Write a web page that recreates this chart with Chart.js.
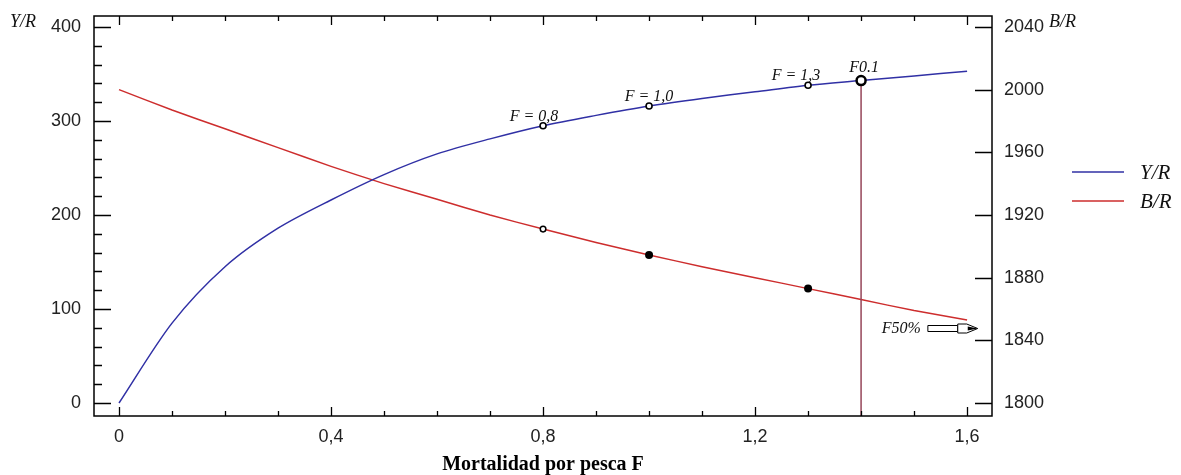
<!DOCTYPE html>
<html>
<head>
<meta charset="utf-8">
<script src="https://cdn.jsdelivr.net/npm/chart.js@4.4.1/dist/chart.umd.min.js"></script>
<style>
  body { margin: 0; background: #fff; }
  #wrap { width: 1181px; height: 475px; position: relative; }
</style>
</head>
<body>
<div id="wrap"><canvas id="grafico"></canvas></div>
<script>
// mortalidad por pesca F
const mortalidadF = [0, 0.1, 0.2, 0.3, 0.4, 0.5, 0.6, 0.7, 0.8, 0.9, 1.0, 1.1, 1.2, 1.3, 1.4, 1.5, 1.6];
// rendimiento por recluta (eje izq)
const rendimientoYR = [0, 85, 145, 186, 216, 243, 265, 281, 295, 306, 316, 324, 331, 338, 343, 348, 353];
// biomasa por recluta (eje der)
const biomasaBR = [2000, 1987, 1975, 1963, 1951, 1940, 1930, 1920, 1911, 1902.5, 1894.5, 1887, 1880, 1873, 1866, 1859, 1853];

// puntos marcados
const marcasYR = [0.8, 1.0, 1.3];
const etiquetasYR = ["F = 0,8", "F = 1,0", "F = 1,3"];
const f01 = 1.4;
const marcaBRabierta = [0.8];
const marcasBRllenas = [1.0, 1.3];
const nivelF50 = 1848; // nivel de la flecha F50% (eje der)

// ticks
const ticksX = [0, 0.4, 0.8, 1.2, 1.6];
const ticksYizq = [0, 100, 200, 300, 400];
const ticksYder = [1800, 1840, 1880, 1920, 1960, 2000, 2040];

const azul = "rgb(48,48,165)";
const rojo = "rgb(205,45,45)";
const granate = "rgb(150,70,90)";

const idx = (f) => mortalidadF.findIndex((v) => Math.abs(v - f) < 1e-9);
const puntosYR = (lista) => lista.map((f) => ({ x: f, y: rendimientoYR[idx(f)] }));
const puntosBR = (lista) => lista.map((f) => ({ x: f, y: biomasaBR[idx(f)] }));

const fmtComa = (v) => (v === 0 ? "0" : v.toFixed(1).replace(".", ","));

// sin relleno extra por etiquetas, asi el area queda fija
const sinRelleno = (s) => {
  s.paddingTop = 0;
  s.paddingBottom = 0;
  s.paddingLeft = 0;
  s.paddingRight = 0;
};

// ejes con ticks hacia adentro, marco y textos extra
const decoraciones = {
  id: "decoraciones",
  afterDraw(chart) {
    const { ctx, chartArea: a, scales } = chart;
    const sx = scales.x, sy = scales.y, sy2 = scales.y2;
    ctx.save();
    ctx.strokeStyle = "#000";
    ctx.lineWidth = 1.5;
    ctx.strokeRect(a.left, a.top, a.right - a.left, a.bottom - a.top);
    ctx.lineWidth = 1.3;
    ctx.beginPath();
    // ticks eje x (abajo y arriba)
    for (let i = 0; i <= 16; i++) {
      const v = i / 10;
      const px = Math.round(sx.getPixelForValue(v)) + 0.5;
      const largo = i % 4 === 0 ? 9 : 5;
      ctx.moveTo(px, a.bottom);
      ctx.lineTo(px, a.bottom - largo);
      ctx.moveTo(px, a.top);
      ctx.lineTo(px, a.top + largo);
    }
    // ticks eje izquierdo
    for (let v = 0; v <= 400; v += 20) {
      const py = Math.round(sy.getPixelForValue(v)) + 0.5;
      const largo = v % 100 === 0 ? 17 : 8;
      ctx.moveTo(a.left, py);
      ctx.lineTo(a.left + largo, py);
    }
    // ticks eje derecho
    ticksYder.forEach((v) => {
      const py = Math.round(sy2.getPixelForValue(v)) + 0.5;
      ctx.moveTo(a.right, py);
      ctx.lineTo(a.right - 17, py);
    });
    ctx.stroke();

    // titulos de ejes verticales
    ctx.fillStyle = "#111";
    ctx.font = "italic 18px 'Liberation Serif'";
    ctx.textBaseline = "middle";
    ctx.textAlign = "left";
    ctx.fillText("Y/R", 10, 22);
    ctx.fillText("B/R", 1049, 22);

    // leyenda
    const leyenda = [["Y/R", azul, 172], ["B/R", rojo, 201]];
    ctx.font = "italic 21px 'Liberation Serif'";
    leyenda.forEach(([txt, col, y]) => {
      ctx.strokeStyle = col;
      ctx.lineWidth = 1.5;
      ctx.beginPath();
      ctx.moveTo(1072, y);
      ctx.lineTo(1124, y);
      ctx.stroke();
      ctx.fillStyle = "#111";
      ctx.fillText(txt, 1140, y + 1);
    });

    // etiquetas de puntos
    ctx.font = "italic 16px 'Liberation Serif'";
    ctx.textAlign = "center";
    ctx.textBaseline = "alphabetic";
    const desplaz = [-9, 0, -12];
    marcasYR.forEach((f, i) => {
      const px = sx.getPixelForValue(f);
      const py = sy.getPixelForValue(rendimientoYR[idx(f)]);
      ctx.fillText(etiquetasYR[i], px + desplaz[i], py - 5);
    });
    ctx.fillText("F0.1", sx.getPixelForValue(f01) + 3, sy.getPixelForValue(rendimientoYR[idx(f01)]) - 9);

    // flecha F50%
    const yF = Math.round(sy2.getPixelForValue(nivelF50)) + 0.5;
    const x0 = sx.getPixelForValue(1.526);
    const x1 = sx.getPixelForValue(1.62);
    ctx.textAlign = "right";
    ctx.textBaseline = "middle";
    ctx.fillText("F50%", x0 - 7, yF);
    ctx.strokeStyle = "#000";
    ctx.lineWidth = 1;
    ctx.fillStyle = "#fff";
    ctx.beginPath();
    ctx.rect(x0, yF - 3, (x1 - x0) * 0.6, 6);
    ctx.fill();
    ctx.stroke();
    ctx.beginPath();
    ctx.moveTo(x0 + (x1 - x0) * 0.6, yF - 4.5);
    ctx.lineTo(x0 + (x1 - x0) * 0.78, yF - 4.5);
    ctx.lineTo(x1, yF);
    ctx.lineTo(x0 + (x1 - x0) * 0.78, yF + 4.5);
    ctx.lineTo(x0 + (x1 - x0) * 0.6, yF + 4.5);
    ctx.closePath();
    ctx.fill();
    ctx.stroke();
    ctx.fillStyle = "#000";
    ctx.beginPath();
    ctx.moveTo(x0 + (x1 - x0) * 0.8, yF - 2);
    ctx.lineTo(x1, yF);
    ctx.lineTo(x0 + (x1 - x0) * 0.8, yF + 2);
    ctx.closePath();
    ctx.fill();
    ctx.restore();
  },
};

new Chart(document.getElementById("grafico"), {
  type: "line",
  data: {
    datasets: [
      {
        data: puntosYR([f01]),
        yAxisID: "y",
        showLine: false,
        pointRadius: 4.5,
        pointBorderWidth: 2.5,
        pointBorderColor: "#000",
        pointBackgroundColor: "#fff",
      },
      {
        data: puntosYR(marcasYR),
        yAxisID: "y",
        showLine: false,
        pointRadius: 3,
        pointBorderWidth: 1.6,
        pointBorderColor: "#000",
        pointBackgroundColor: "#fff",
      },
      {
        data: puntosBR(marcaBRabierta),
        yAxisID: "y2",
        showLine: false,
        pointRadius: 2.8,
        pointBorderWidth: 1.5,
        pointBorderColor: "#000",
        pointBackgroundColor: "#fff",
      },
      {
        data: puntosBR(marcasBRllenas),
        yAxisID: "y2",
        showLine: false,
        pointRadius: 4,
        pointBorderWidth: 0,
        pointBackgroundColor: "#000",
      },
      {
        data: [{ x: f01, y: rendimientoYR[idx(f01)] }, { x: f01, y: -13.8 }],
        yAxisID: "y",
        borderColor: granate,
        borderWidth: 1.5,
        pointRadius: 0,
      },
      {
        label: "Y/R",
        data: mortalidadF.map((f, i) => ({ x: f, y: rendimientoYR[i] })),
        yAxisID: "y",
        borderColor: azul,
        borderWidth: 1.5,
        pointRadius: 0,
        tension: 0.3,
      },
      {
        label: "B/R",
        data: mortalidadF.map((f, i) => ({ x: f, y: biomasaBR[i] })),
        yAxisID: "y2",
        borderColor: rojo,
        borderWidth: 1.5,
        pointRadius: 0,
        tension: 0.2,
      },
    ],
  },
  options: {
    responsive: true,
    maintainAspectRatio: false,
    animation: false,
    devicePixelRatio: 1,
    layout: { padding: { top: 16, left: 0, right: 0, bottom: 0 } },
    plugins: { legend: { display: false }, tooltip: { enabled: false } },
    scales: {
      x: {
        type: "linear",
        min: -0.0472,
        max: 1.647,
        grid: { display: false, drawTicks: false },
        border: { display: false },
        afterBuildTicks: (s) => { s.ticks = ticksX.map((v) => ({ value: v })); },
        afterFit: (s) => { s.height = 59; sinRelleno(s); },
        ticks: {
          autoSkip: false,
          maxRotation: 0,
          padding: 10,
          color: "#222",
          font: { family: "'Liberation Sans'", size: 18 },
          callback: (v) => fmtComa(v),
        },
        title: {
          display: true,
          text: "Mortalidad por pesca F",
          color: "#000",
          padding: { top: 0, bottom: 0 },
          font: { family: "'Liberation Serif'", size: 20, weight: "bold", lineHeight: 1 },
        },
      },
      y: {
        position: "left",
        min: -13.8,
        max: 411.7,
        grid: { display: false, drawTicks: false },
        border: { display: false },
        afterBuildTicks: (s) => { s.ticks = ticksYizq.map((v) => ({ value: v })); },
        afterFit: (s) => { s.width = 94; sinRelleno(s); },
        ticks: {
          padding: 13,
          color: "#222",
          font: { family: "'Liberation Sans'", size: 18 },
          callback: (v) => String(v),
        },
      },
      y2: {
        position: "right",
        min: 1791.7,
        max: 2047.0,
        grid: { display: false, drawTicks: false },
        border: { display: false },
        afterBuildTicks: (s) => { s.ticks = ticksYder.map((v) => ({ value: v })); },
        afterFit: (s) => { s.width = 189; sinRelleno(s); },
        ticks: {
          padding: 12,
          color: "#222",
          font: { family: "'Liberation Sans'", size: 18 },
          callback: (v) => String(v),
        },
      },
    },
  },
  plugins: [decoraciones],
});
</script>
</body>
</html>
